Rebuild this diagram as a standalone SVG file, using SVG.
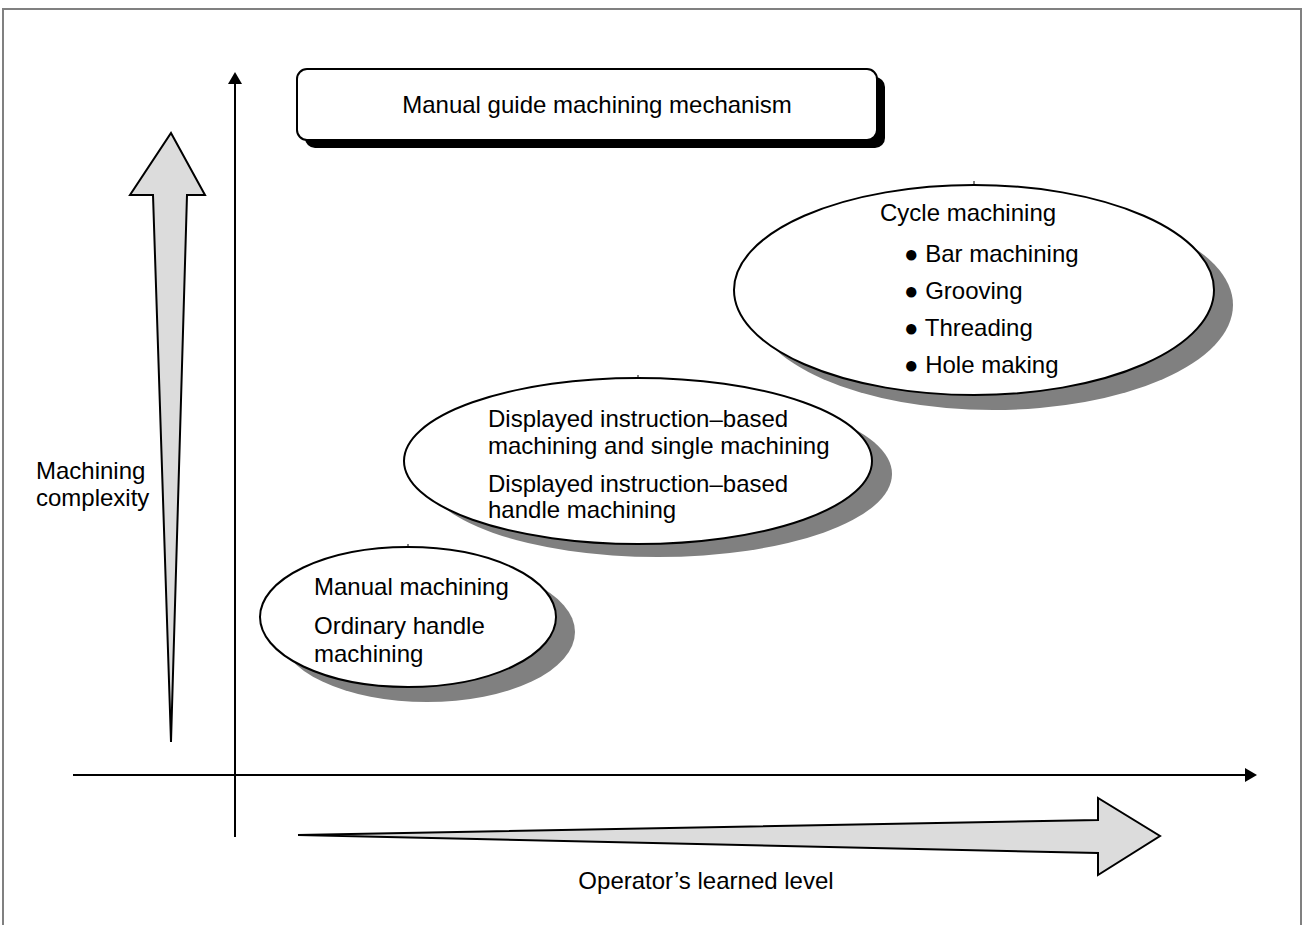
<svg xmlns="http://www.w3.org/2000/svg" width="1304" height="925" viewBox="0 0 1304 925">
<style>
text{font-family:"Liberation Sans",Arial,sans-serif;font-size:24px;fill:#000}
.ell{fill:#fff;stroke:#000;stroke-width:2}
.shd{fill:#808080}
.tick{stroke:#000;stroke-width:1}
.big{fill:#dcdcdc;stroke:#000;stroke-width:2;stroke-linejoin:miter}
.axis{stroke:#000;stroke-width:2;fill:none}
</style>
<defs>
<marker id="ah" viewBox="0 0 12 14" refX="0" refY="7" markerWidth="12" markerHeight="14" markerUnits="userSpaceOnUse" orient="auto">
<path d="M0,0 L12,7 L0,14 Z" fill="#000"/>
</marker>
</defs>
<rect x="3" y="9" width="1298" height="940" fill="#fff" stroke="#808080" stroke-width="2"/>
<g id="connectors">
<line class="axis" x1="235" y1="837" x2="235" y2="84" marker-end="url(#ah)"/>
<line class="axis" x1="73" y1="775" x2="1245" y2="775" marker-end="url(#ah)"/>
<polygon id="arrow-complexity" class="big" points="171,133 205,195 187,195 171,742 153,195 130,195"/>
<polygon id="arrow-level" class="big" points="298,835 1098,820 1098,798 1160,836 1098,875 1098,853"/>
</g>
<g id="title">
<rect x="305" y="77" width="580" height="71" rx="10" fill="#000"/>
<rect x="297" y="69" width="580" height="71" rx="10" fill="#fff" stroke="#000" stroke-width="2"/>
<text x="597" y="113" text-anchor="middle">Manual guide machining mechanism</text>
</g>
<g id="cycle">
<ellipse class="shd" cx="993" cy="305" rx="240" ry="105"/>
<ellipse class="ell" cx="974" cy="290" rx="240" ry="105"/>
<line class="tick" x1="974" y1="181" x2="974" y2="185"/>
<text x="880" y="221">Cycle machining</text>
<text x="904" y="262">● Bar machining</text>
<text x="904" y="299">● Grooving</text>
<text x="904" y="336">● Threading</text>
<text x="904" y="373">● Hole making</text>
</g>
<g id="displayed">
<ellipse class="shd" cx="658" cy="474" rx="234" ry="83"/>
<ellipse class="ell" cx="638" cy="461" rx="234" ry="83"/>
<line class="tick" x1="638" y1="375" x2="638" y2="379"/>
<text x="488" y="427">Displayed instruction–based</text>
<text x="488" y="454">machining and single machining</text>
<text x="488" y="492">Displayed instruction–based</text>
<text x="488" y="518">handle machining</text>
</g>
<g id="manual">
<ellipse class="shd" cx="427" cy="632" rx="148" ry="70"/>
<ellipse class="ell" cx="408" cy="617" rx="148" ry="70"/>
<line class="tick" x1="408" y1="544" x2="408" y2="548"/>
<text x="314" y="595">Manual machining</text>
<text x="314" y="634">Ordinary handle</text>
<text x="314" y="662">machining</text>
</g>
<g id="labels">
<text x="36" y="479">Machining</text>
<text x="36" y="506">complexity</text>
<text x="706" y="889" text-anchor="middle">Operator’s learned level</text>
</g>
</svg>
